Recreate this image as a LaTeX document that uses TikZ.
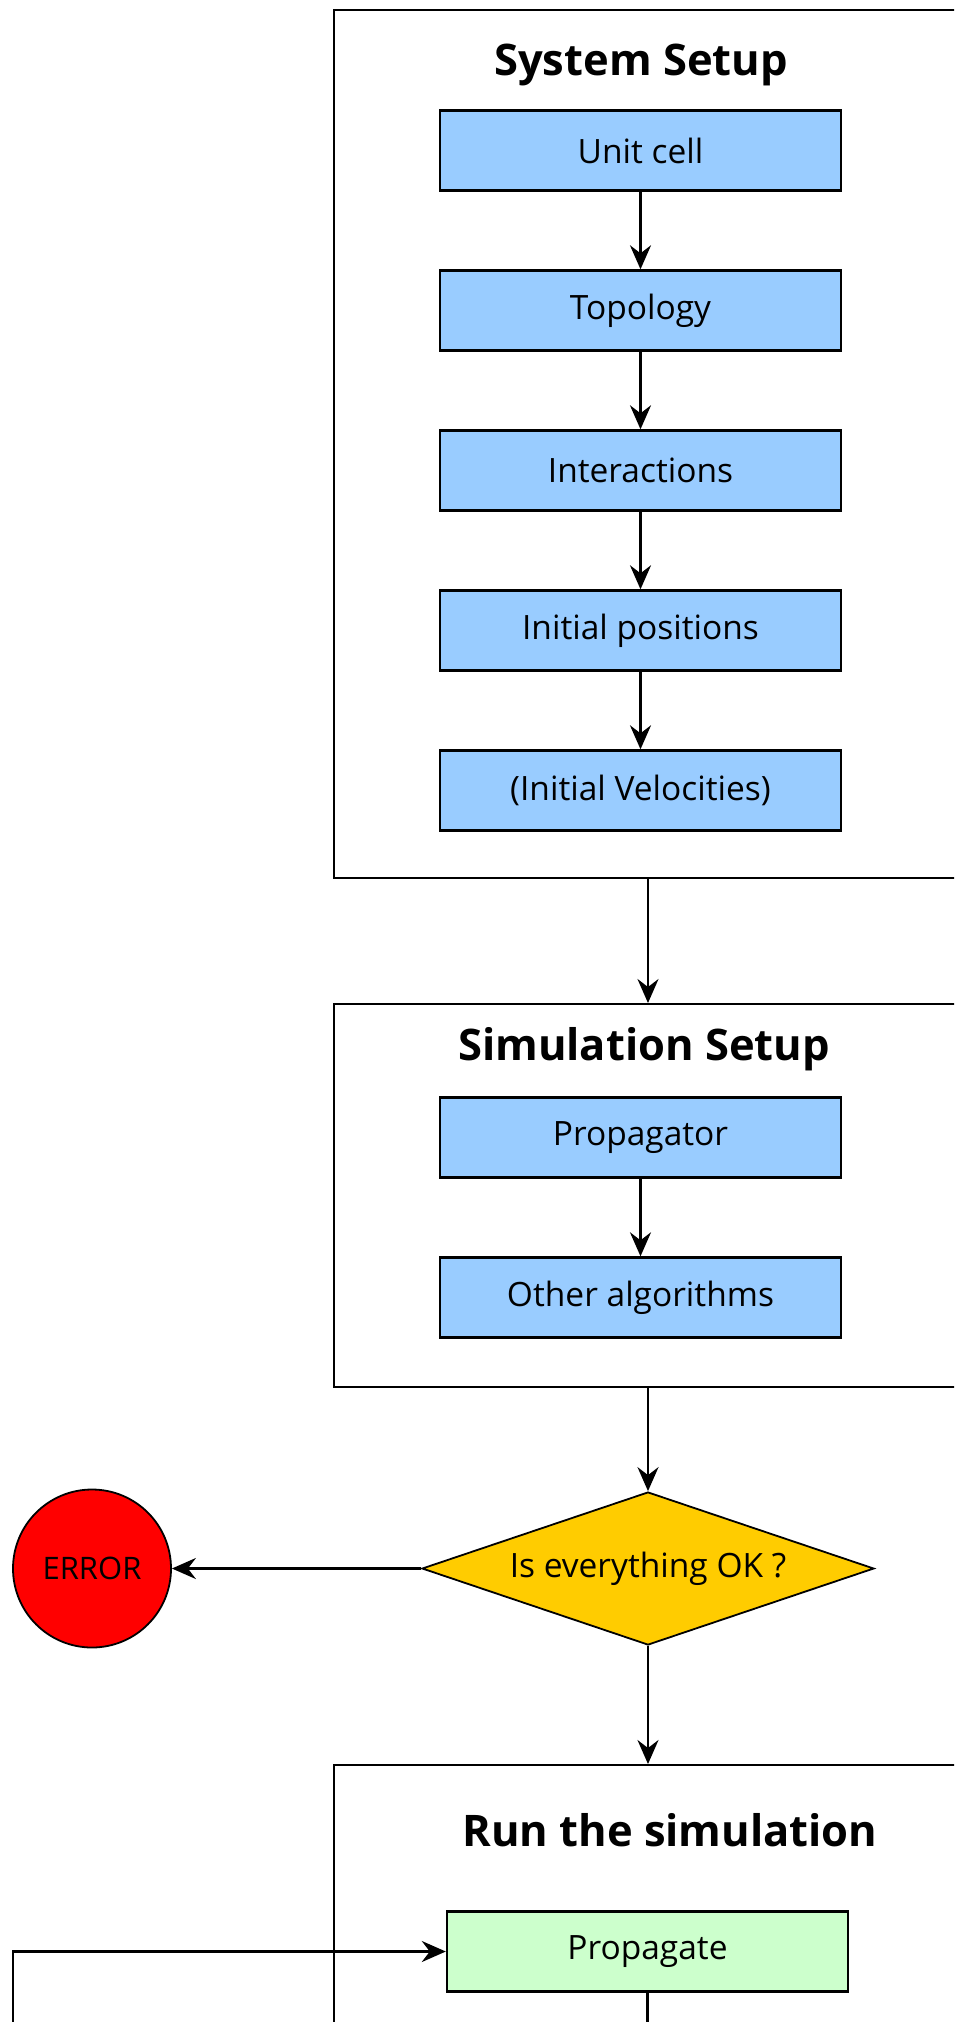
\documentclass[tikz,border=0pt]{standalone}
\usepackage{fontspec}
\setmainfont{Open Sans}
\usetikzlibrary{shapes.geometric,arrows.meta,calc}
\definecolor{cblue}{HTML}{99CCFF}
\definecolor{cgreen}{HTML}{CCFFCC}
\definecolor{cyellow}{HTML}{FFCC00}
\definecolor{cred}{HTML}{FF0000}
\begin{document}
\begin{tikzpicture}[x=1pt,y=-1pt,
  stepbox/.style={draw, line width=2.4pt, fill=cblue, minimum width=401pt, minimum height=80pt, inner sep=0pt, font=\fontsize{33.5}{38}\selectfont},
  greenbox/.style={stepbox, fill=cgreen},
  container/.style={draw, line width=2.4pt, anchor=north west, inner sep=0pt},
  grouptitle/.style={font=\bfseries\fontsize{43.5}{50}\selectfont, inner sep=0pt},
  arr/.style={line width=2.4pt, -{Stealth[length=24pt, width=21pt, inset=8pt]}},
  plain/.style={line width=2.4pt}
]
\useasboundingbox (0,0) rectangle (954,2022);
\clip (0,0) rectangle (954,2022);

% containers
\node[container, minimum width=700pt, minimum height=868pt] (sys) at (333,9) {};
\node[container, minimum width=700pt, minimum height=383pt] (sim) at (333,1003) {};
\node[container, minimum width=700pt, minimum height=400pt] (run) at (333,1764) {};

% titles
\node[grouptitle] (t1) at (641,65) {System Setup};
\node[grouptitle] (t2) at (644,1049) {Simulation Setup};
\node[grouptitle] (t3) at (670,1830) {Run the simulation};

% system setup steps
\node[stepbox] (uc) at (640.5,150.5) {Unit cell};
\node[stepbox] (top) at (640.5,310.5) {Topology};
\node[stepbox] (int) at (640.5,470.5) {Interactions};
\node[stepbox] (ip) at (640.5,630.5) {Initial positions};
\node[stepbox] (iv) at (640.5,790.5) {(Initial Velocities)};

\draw[arr] (uc) -- (top);
\draw[arr] (top) -- (int);
\draw[arr] (int) -- (ip);
\draw[arr] (ip) -- (iv);

% simulation setup steps
\node[stepbox] (prg) at (640.5,1137.5) {Propagator};
\node[stepbox] (oth) at (640.5,1297.5) {Other algorithms};
\draw[arr] (prg) -- (oth);

% decision
\node[draw, line width=1.8pt, fill=cyellow, diamond, aspect=2.95, minimum width=452pt, minimum height=153pt, inner sep=0pt, font=\fontsize{33.5}{38}\selectfont] (ok) at (648,1568.5) {Is everything OK ?};
\node[draw, line width=1.8pt, fill=cred, circle, minimum size=158pt, inner sep=0pt, font=\fontsize{31}{36}\selectfont] (err) at (92,1568.5) {ERROR};

\draw[arr] (sys.south -| ok.north) -- (sim.north -| ok.north);
\draw[arr] (sim.south -| ok.north) -- (ok.north);
\draw[arr] (ok.west) -- (err.east);
\draw[arr] (ok.south) -- (run.north -| ok.south);

% run
\node[greenbox] (pgt) at (647.5,1951.5) {Propagate};
\coordinate (lbot) at (13,2040);
\coordinate (lcorner) at (13,1951.5);
\coordinate (pbot) at (647.5,2040);
\draw[arr] (lbot) -- (lcorner) -- (pgt.west);
\draw[plain] (pgt.south) -- (pbot);
\end{tikzpicture}
\end{document}
